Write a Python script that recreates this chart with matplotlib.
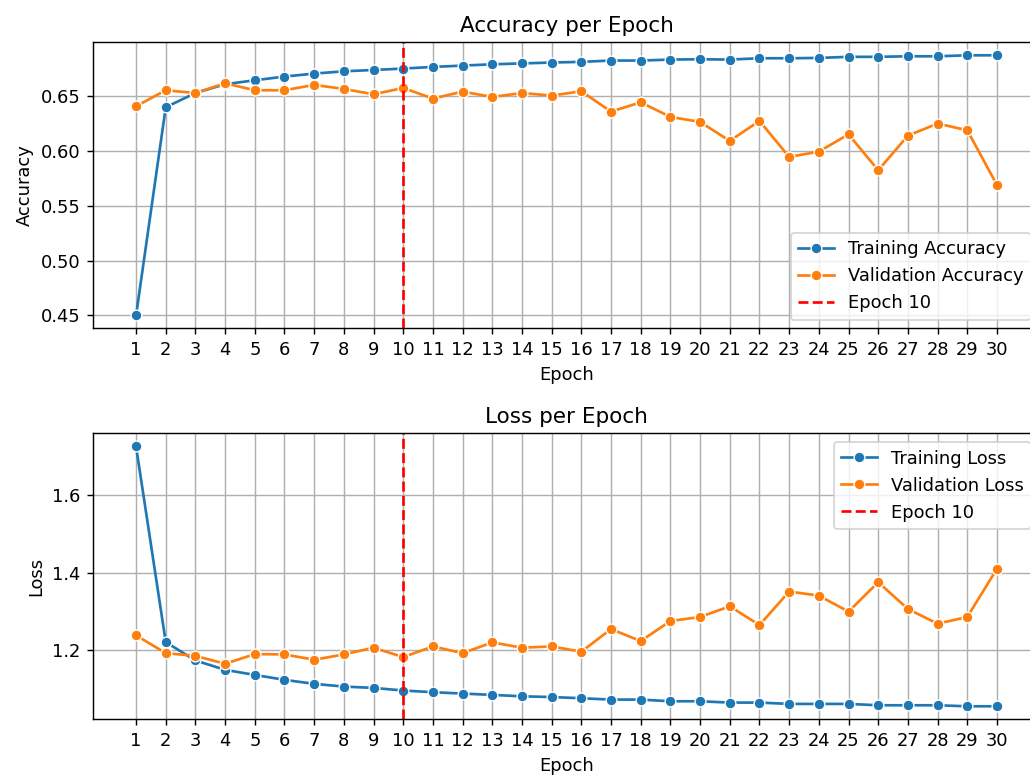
import matplotlib
matplotlib.use('Agg')
import matplotlib.pyplot as plt
from matplotlib.ticker import MultipleLocator

epochs = list(range(1, 31))

train_acc = [0.450, 0.640, 0.653, 0.661, 0.6646, 0.668, 0.6707, 0.6728, 0.674, 0.6753,
             0.6768, 0.678, 0.6792, 0.680, 0.6808, 0.6814, 0.6826, 0.6826, 0.6835, 0.6838,
             0.6835, 0.6847, 0.6847, 0.685, 0.686, 0.686, 0.6865, 0.6865, 0.6874, 0.6874]
val_acc = [0.6409, 0.6555, 0.653, 0.6619, 0.6555, 0.6555, 0.6604, 0.6567, 0.6518, 0.6576,
           0.6479, 0.6543, 0.6494, 0.653, 0.6506, 0.6546, 0.636, 0.6445, 0.6312, 0.6266,
           0.6093, 0.6275, 0.5947, 0.5995, 0.6153, 0.5825, 0.6141, 0.6251, 0.619, 0.5691]

train_loss = [1.7247, 1.2214, 1.1742, 1.150, 1.137, 1.1243, 1.114, 1.107, 1.1036, 1.0968,
              1.0925, 1.089, 1.0856, 1.082, 1.080, 1.077, 1.0735, 1.0735, 1.0692, 1.0692,
              1.0658, 1.0658, 1.0624, 1.0624, 1.0624, 1.0589, 1.0589, 1.0589, 1.0563, 1.0563]
val_loss = [1.2387, 1.193, 1.186, 1.1656, 1.1905, 1.1897, 1.176, 1.1897, 1.207, 1.1828,
            1.2103, 1.193, 1.2206, 1.207, 1.2103, 1.1966, 1.255, 1.224, 1.2757, 1.286,
            1.3135, 1.2653, 1.3515, 1.341, 1.2998, 1.3755, 1.3066, 1.2688, 1.286, 1.41]

marker_kw = dict(marker='o', markersize=6, markeredgecolor='white', markeredgewidth=0.75)

dpi = 129
fig = plt.figure(figsize=(1030 / dpi, 776 / dpi), dpi=dpi)
ax1 = fig.add_axes([0.0903, 0.5767, 0.9194, 0.3688])
ax2 = fig.add_axes([0.0903, 0.0731, 0.9194, 0.3683])

# accuracy
ax1.plot(epochs, train_acc, color='tab:blue', label='Training Accuracy', **marker_kw)
ax1.plot(epochs, val_acc, color='tab:orange', label='Validation Accuracy', **marker_kw)
ax1.axvline(10, color='red', linestyle='--', label='Epoch 10')
ax1.set_title('Accuracy per Epoch')
ax1.set_xlabel('Epoch')
ax1.set_ylabel('Accuracy')
ax1.set_xticks(epochs)
ax1.yaxis.set_major_locator(MultipleLocator(0.05))
ax1.grid(True)
ax1.legend(loc='lower right')

# loss
ax2.plot(epochs, train_loss, color='tab:blue', label='Training Loss', **marker_kw)
ax2.plot(epochs, val_loss, color='tab:orange', label='Validation Loss', **marker_kw)
ax2.axvline(10, color='red', linestyle='--', label='Epoch 10')
ax2.set_title('Loss per Epoch')
ax2.set_xlabel('Epoch')
ax2.set_ylabel('Loss')
ax2.set_xticks(epochs)
ax2.yaxis.set_major_locator(MultipleLocator(0.2))
ax2.grid(True)
ax2.legend(loc='upper right')

fig.savefig('out.png', dpi=dpi)
